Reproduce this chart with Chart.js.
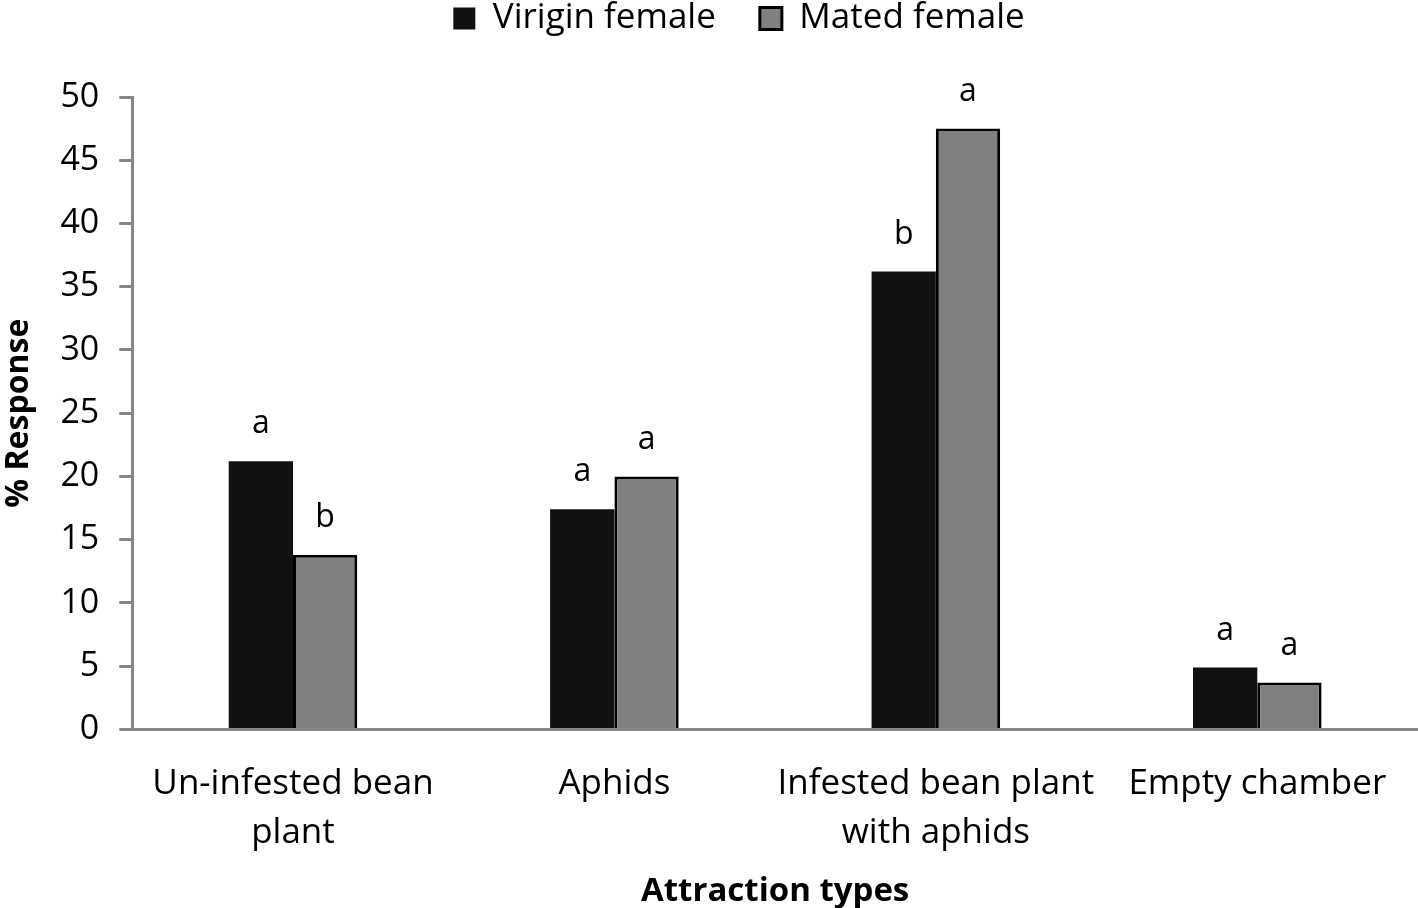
<!DOCTYPE html>
<html>
<head>
<meta charset="utf-8">
<script src="https://cdn.jsdelivr.net/npm/chart.js@4"></script>
<style>
  body { margin: 0; background: #fff; }
  #wrap { width: 1418px; height: 908px; }
</style>
</head>
<body>
<div id="wrap"><canvas id="myChart" width="1418" height="908"></canvas></div>
<script>
const categories = [['Un-infested bean', 'plant'], 'Aphids', ['Infested bean plant', 'with aphids'], 'Empty chamber'];
const virginData = [21.2, 17.4, 36.2, 4.9];
const matedData = [13.8, 20.0, 47.5, 3.7];
const virginLetters = ['a', 'a', 'b', 'a'];
const matedLetters = ['b', 'a', 'a', 'a'];
const yTicks = [0, 5, 10, 15, 20, 25, 30, 35, 40, 45, 50];

const FONT = "'Open Sans', 'Liberation Sans', sans-serif";
const axisGray = '#868686';

// letters over each bar
const letterPlugin = {
    id: 'letters',
    afterDatasetsDraw(chart) {
        const c = chart.ctx;
        c.save();
        c.font = '32px ' + FONT;
        c.fillStyle = '#000';
        c.textAlign = 'center';
        c.textBaseline = 'bottom';
        [virginLetters, matedLetters].forEach((letters, di) => {
            chart.getDatasetMeta(di).data.forEach((bar, i) => {
                c.fillText(letters[i], bar.x, bar.y - 21);
            });
        });
        c.restore();
    }
};

// extra space under the legend, and nudge it a bit right / up
const legendGap = {
    id: 'legendGap',
    beforeInit(chart) {
        const lg = chart.legend;
        const fit = lg.fit;
        lg.fit = function() {
            fit.call(lg);
            this.height += 48;
        };
        const draw = lg.draw;
        lg.draw = function() {
            this.left += 30; this.right += 30; this.top -= 3; this.bottom -= 3;
            draw.call(lg);
            this.left -= 30; this.right -= 30; this.top += 3; this.bottom += 3;
        };
    }
};

const ctx = document.getElementById('myChart').getContext('2d');
new Chart(ctx, {
    type: 'bar',
    data: {
        labels: categories,
        datasets: [{
            label: 'Virigin female',
            data: virginData,
            backgroundColor: '#111111',
            borderColor: '#111111',
            borderWidth: 0
        }, {
            label: 'Mated female',
            data: matedData,
            backgroundColor: '#808080',
            borderColor: '#000000',
            borderWidth: 3
        }]
    },
    options: {
        responsive: false,
        animation: false,
        categoryPercentage: 0.4,
        barPercentage: 1.0,
        layout: { padding: { left: 0, right: 0, top: -40, bottom: -7 } },
        plugins: {
            legend: {
                position: 'top',
                labels: {
                    font: { family: FONT, size: 35 },
                    color: '#000',
                    boxWidth: 22,
                    boxHeight: 22,
                    padding: 44
                }
            },
            tooltip: { enabled: false }
        },
        scales: {
            x: {
                grid: { display: false },
                border: { color: axisGray, width: 3 },
                ticks: {
                    font: { family: FONT, size: 35, lineHeight: 1.4 },
                    color: '#000',
                    maxRotation: 0,
                    padding: 22
                },
                title: {
                    display: true,
                    text: 'Attraction types',
                    font: { family: FONT, size: 33, weight: 'bold' },
                    color: '#000',
                    padding: { top: -8 }
                }
            },
            y: {
                min: 0,
                max: 50,
                afterBuildTicks: axis => { axis.ticks = yTicks.map(v => ({ value: v })); },
                grid: {
                    drawOnChartArea: false,
                    drawTicks: true,
                    tickLength: 13,
                    color: axisGray,
                    lineWidth: 3
                },
                border: { color: axisGray, width: 3 },
                ticks: {
                    font: { family: FONT, size: 34 },
                    color: '#000',
                    padding: 20
                },
                title: {
                    display: true,
                    text: '% Response',
                    font: { family: FONT, size: 32, weight: 'bold' },
                    color: '#000',
                    padding: { top: 0, bottom: 2 }
                }
            }
        }
    },
    plugins: [letterPlugin, legendGap]
});
</script>
</body>
</html>
